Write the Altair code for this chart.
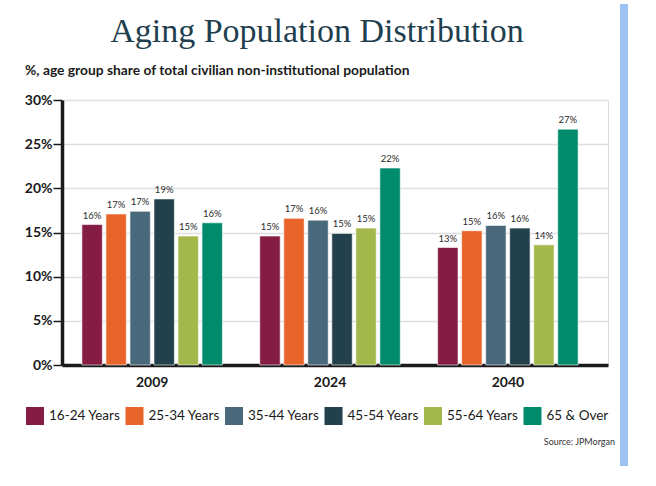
import altair as alt
import pandas as pd

years = ["2009", "2024", "2040"]
groups = ["16-24 Years", "25-34 Years", "35-44 Years", "45-54 Years", "55-64 Years", "65 & Over"]
colors = ["#841C43", "#E9642B", "#4A687C", "#22414D", "#A3B84A", "#008C6C"]
v2009 = [15.9, 17.1, 17.4, 18.8, 14.6, 16.1]
v2024 = [14.6, 16.6, 16.4, 14.9, 15.5, 22.3]
v2040 = [13.3, 15.2, 15.8, 15.5, 13.6, 26.7]
l2009 = ["16%", "17%", "17%", "19%", "15%", "16%"]
l2024 = ["15%", "17%", "16%", "15%", "15%", "22%"]
l2040 = ["13%", "15%", "16%", "16%", "14%", "27%"]
title_text = ["Aging Population Distribution"]
subtitle_text = ["%, age group share of total civilian non-institutional population"]
source_text = ["Source: JPMorgan"]

rows = []
for yr, vals, labs in zip(years, [v2009, v2024, v2040], [l2009, l2024, l2040]):
    for g, v, l in zip(groups, vals, labs):
        rows.append({"year": yr, "group": g, "value": v, "label": l})
df = pd.DataFrame(rows)

W, H = 546, 265

x = alt.X("year:N", sort=years, title=None,
          scale=alt.Scale(paddingInner=0.21, paddingOuter=0.14, align=0.4),
          axis=alt.Axis(labelAngle=0, ticks=False, domainColor="#1a1a1a", domainWidth=3.5,
                        labelFont="Lato", labelFontSize=14, labelFontWeight="bold",
                        labelColor="#1a1a1a", labelPadding=10, grid=False))
xo = alt.XOffset("group:N", sort=groups, scale=alt.Scale(paddingInner=0.15, paddingOuter=0))
y = alt.Y("value:Q", title=None,
          scale=alt.Scale(domain=[0, 30], nice=False),
          axis=alt.Axis(values=[0, 5, 10, 15, 20, 25, 30], labelExpr="datum.value + '%'",
                        domainColor="#1a1a1a", domainWidth=3.5, tickColor="#1a1a1a",
                        tickWidth=1.5, tickSize=9, labelPadding=1,
                        labelFont="Lato", labelFontSize=14, labelFontWeight="bold",
                        labelColor="#1a1a1a", gridColor="#dedede", gridWidth=1.5))
color = alt.Color("group:N", sort=groups,
                  scale=alt.Scale(domain=groups, range=colors),
                  legend=alt.Legend(title=None, orient="none", legendX=-36, legendY=307,
                                    direction="horizontal", columns=6,
                                    symbolType="square", symbolSize=324, symbolStrokeWidth=0,
                                    symbolOpacity=1, labelFont="Lato", labelFontSize=13.5,
                                    labelColor="#1a1a1a", labelOffset=5, columnPadding=4.5))

bars = alt.Chart(df).mark_bar(stroke="white", strokeWidth=0.6, opacity=1).encode(
    x=x, xOffset=xo, y=y, color=color)

labels = alt.Chart(df).mark_text(dy=-9, font="Lato", fontSize=9.5, color="#2a2a2a").encode(
    x=alt.X("year:N", sort=years), xOffset=alt.XOffset("group:N", sort=groups),
    y="value:Q", text="label:N")

title = alt.Chart(pd.DataFrame({"t": title_text})).mark_text(
    font="Liberation Serif", fontSize=34, color="#1F3F4F", align="center", baseline="alphabetic"
).encode(text="t:N", x=alt.value(255), y=alt.value(-58))

subtitle = alt.Chart(pd.DataFrame({"t": subtitle_text})).mark_text(
    font="Lato", fontSize=13.8, fontWeight="bold", color="#1a1a1a", align="left", baseline="middle"
).encode(text="t:N", x=alt.value(-37), y=alt.value(-29))

source = alt.Chart(pd.DataFrame({"t": source_text})).mark_text(
    font="Lato", fontSize=9, color="#333333", align="right", baseline="middle"
).encode(text="t:N", x=alt.value(553), y=alt.value(342))

bluebar = alt.Chart(pd.DataFrame({"t": source_text})).mark_rule(
    color="#9DC3F5", strokeWidth=8
).encode(x=alt.value(562), y=alt.value(-96), y2=alt.value(366))

chart = alt.layer(bars, labels, title, subtitle, source, bluebar).properties(
    width=W, height=H,
    autosize=alt.AutoSizeParams(type="none"),
    padding={"left": 62, "top": 100, "right": 48, "bottom": 121},
).configure_view(stroke=None).configure(background="white")

chart.save("out.html", embed_options={"renderer": "svg", "actions": False})
